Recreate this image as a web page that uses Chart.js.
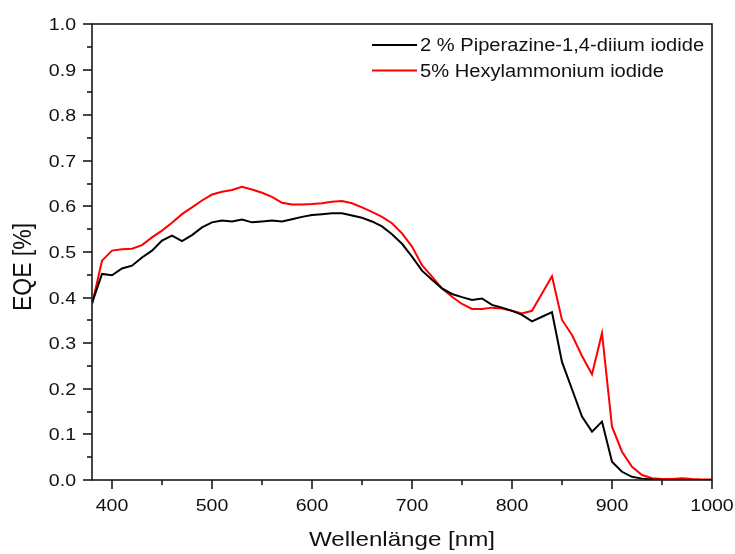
<!DOCTYPE html>
<html>
<head>
<meta charset="utf-8">
<script src="https://cdn.jsdelivr.net/npm/chart.js@4.4.1/dist/chart.umd.min.js"></script>
<style>
  html, body { margin: 0; padding: 0; background: #fff; }
  #eqe { display: block; }
</style>
</head>
<body>
<canvas id="eqe" width="735" height="554"></canvas>
<script>
const wavelengths = [380, 390, 400, 410, 420, 430, 440, 450, 460, 470, 480, 490, 500, 510, 520, 530,
  540, 550, 560, 570, 580, 590, 600, 610, 620, 630, 640, 650, 660, 670, 680, 690, 700, 710, 720,
  730, 740, 750, 760, 770, 780, 790, 800, 810, 820, 830, 840, 850, 860, 870, 880, 890, 900, 910,
  920, 930, 940, 950, 960, 970, 980, 990, 1000];

const piperazineEqe = [0.388, 0.452, 0.449, 0.464, 0.470, 0.488, 0.503, 0.525, 0.536, 0.524, 0.537,
  0.554, 0.565, 0.569, 0.567, 0.571, 0.565, 0.567, 0.569, 0.567, 0.572, 0.577, 0.581, 0.583, 0.585,
  0.585, 0.580, 0.575, 0.567, 0.556, 0.539, 0.518, 0.490, 0.459, 0.439, 0.420, 0.408, 0.401, 0.395,
  0.398, 0.384, 0.378, 0.371, 0.362, 0.348, 0.358, 0.368, 0.259, 0.199, 0.139, 0.106, 0.128, 0.040,
  0.018, 0.007, 0.003, 0.001, 0, 0, 0, 0, 0, 0];

const hexylEqe = [0.385, 0.481, 0.503, 0.506, 0.507, 0.515, 0.532, 0.547, 0.564, 0.583, 0.598,
  0.613, 0.626, 0.632, 0.636, 0.643, 0.637, 0.630, 0.621, 0.608, 0.604, 0.604, 0.605, 0.607, 0.610,
  0.612, 0.607, 0.598, 0.588, 0.577, 0.563, 0.541, 0.512, 0.471, 0.446, 0.420, 0.402, 0.386, 0.375,
  0.375, 0.378, 0.376, 0.371, 0.365, 0.371, 0.409, 0.447, 0.351, 0.318, 0.272, 0.232, 0.322, 0.117,
  0.062, 0.029, 0.011, 0.004, 0.002, 0.002, 0.004, 0.002, 0.001, 0.001];

const seriesLabels = ['2 % Piperazine-1,4-diium iodide', '5% Hexylammonium iodide'];
const xTicks = [400, 500, 600, 700, 800, 900, 1000];
const yTicks = [0, 0.1, 0.2, 0.3, 0.4, 0.5, 0.6, 0.7, 0.8, 0.9, 1.0];

const FONT = '"Liberation Sans", Arial, sans-serif';
const SX = 1.15; // the lettering is a bit wide

function wideText(ctx, str, x, y, align, size) {
  ctx.save();
  ctx.font = size + 'px ' + FONT;
  ctx.textAlign = align;
  ctx.textBaseline = 'middle';
  ctx.translate(x, y);
  ctx.scale(SX, 1);
  ctx.fillText(str, 0, 0);
  ctx.restore();
}

function tick(ctx, x1, y1, x2, y2) {
  ctx.beginPath();
  ctx.moveTo(x1, y1);
  ctx.lineTo(x2, y2);
  ctx.stroke();
}

// box, tick marks, tick labels, axis titles and the legend
const decorations = {
  id: 'decorations',
  afterDraw(chart) {
    const { ctx, chartArea: a, scales: { x, y } } = chart;
    ctx.save();
    ctx.strokeStyle = '#1a1a1a';
    ctx.fillStyle = '#111';
    ctx.lineWidth = 1.6;
    ctx.strokeRect(a.left, a.top, a.right - a.left, a.bottom - a.top);

    xTicks.forEach(v => {
      const px = Math.round(x.getPixelForValue(v));
      tick(ctx, px, a.bottom, px, a.bottom + 9);
      const half = Math.round(x.getPixelForValue(v - 50));
      if (v - 50 > x.min) tick(ctx, half, a.bottom, half, a.bottom + 5);
      wideText(ctx, String(v), px, a.bottom + 26, 'center', 17);
    });

    yTicks.forEach((v, i) => {
      const py = Math.round(y.getPixelForValue(v));
      tick(ctx, a.left - 9, py, a.left, py);
      if (i > 0) {
        const half = Math.round(y.getPixelForValue(v - 0.05));
        tick(ctx, a.left - 5, half, a.left, half);
      }
      wideText(ctx, v.toFixed(1), a.left - 16, py + 1, 'right', 17);
    });

    wideText(ctx, 'Wellenlänge [nm]', (a.left + a.right) / 2, 540, 'center', 21);

    ctx.save();
    ctx.translate(24, 267);
    ctx.rotate(-Math.PI / 2);
    ctx.scale(1, SX);
    ctx.font = '23px ' + FONT;
    ctx.textAlign = 'center';
    ctx.textBaseline = 'middle';
    ctx.fillText('EQE [%]', 0, 0);
    ctx.restore();

    chart.data.datasets.forEach((ds, i) => {
      const ly = 45 + i * 25.5;
      ctx.strokeStyle = ds.borderColor;
      ctx.lineWidth = 2;
      tick(ctx, 372, ly, 417, ly);
      wideText(ctx, ds.label, 420, ly + 1.5, 'left', 17.5);
    });
    ctx.restore();
  }
};

new Chart(document.getElementById('eqe'), {
  type: 'line',
  data: {
    labels: wavelengths,
    datasets: [
      {
        label: seriesLabels[0],
        data: wavelengths.map((w, i) => ({ x: w, y: piperazineEqe[i] })),
        borderColor: '#000000',
        borderWidth: 2,
        pointRadius: 0,
        tension: 0
      },
      {
        label: seriesLabels[1],
        data: wavelengths.map((w, i) => ({ x: w, y: hexylEqe[i] })),
        borderColor: '#ff0000',
        borderWidth: 2,
        pointRadius: 0,
        tension: 0
      }
    ]
  },
  options: {
    responsive: false,
    animation: false,
    layout: { padding: { top: 24, right: 23, left: 0, bottom: 0 } },
    plugins: { legend: { display: false }, tooltip: { enabled: false } },
    scales: {
      x: {
        type: 'linear', min: 380, max: 1000,
        grid: { display: false }, border: { display: false }, ticks: { display: false },
        afterFit: s => { s.height = 74; }
      },
      y: {
        min: 0, max: 1.0,
        grid: { display: false }, border: { display: false }, ticks: { display: false },
        afterFit: s => { s.width = 92; }
      }
    }
  },
  plugins: [decorations]
});
</script>
</body>
</html>
